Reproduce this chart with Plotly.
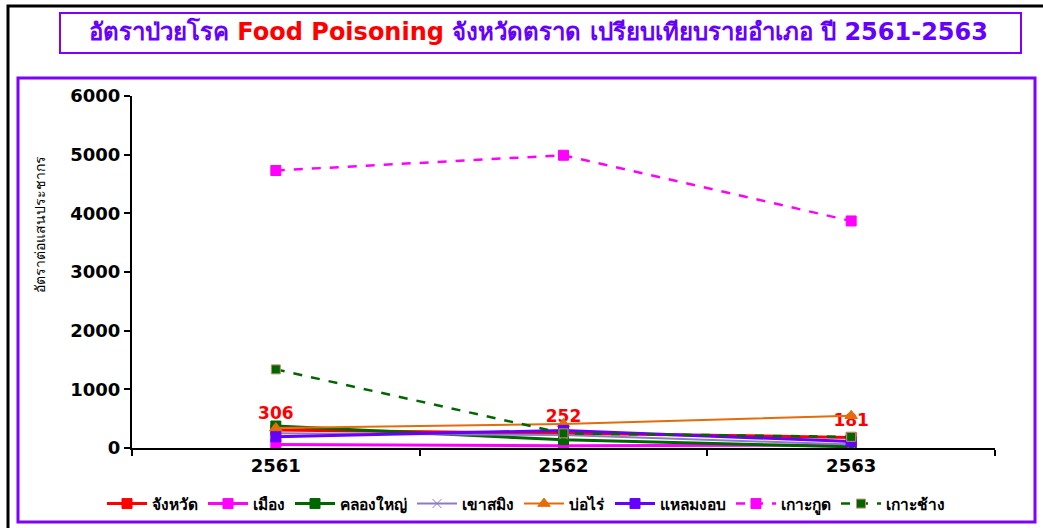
import plotly.graph_objects as go

years = ["2561", "2562", "2563"]
changwat = [306, 252, 181]
mueang = [60, 40, 50]
khlongyai = [375, 140, 20]
khaosaming = [250, 220, 60]
borai = [340, 410, 550]
laemngop = [190, 300, 110]
kokut = [4730, 4990, 3870]
kochang = [1340, 250, 190]

W, H = 1043, 528
L, R, T, B = 132, 995, 96, 448

def px(x):
    return (x - L) / (R - L)

def py(y):
    return (B - y) / (B - T)

fig = go.Figure()

def add(name, y, color, symbol="square", dash="solid", width=3, size=10, lc=None, text=None):
    fig.add_trace(go.Scatter(
        x=years, y=y, name=name,
        mode="lines+markers" + ("+text" if text else ""),
        line=dict(color=color, width=width, dash=dash),
        marker=dict(symbol=symbol, size=size, color=color,
                    line=dict(color=lc or color, width=1)),
        text=text, textposition="top center",
        textfont=dict(family="DejaVu Sans", size=17, color="#FF0000", weight="bold"),
    ))

add("จังหวัด", changwat, "#FF0000", text=[str(v) for v in changwat])
add("เมือง", mueang, "#FF00FF")
add("คลองใหญ่", khlongyai, "#006600")
add("เขาสมิง", khaosaming, "#8E7CC3", symbol="x-thin", width=2, size=9, lc="#8E7CC3")
add("บ่อไร่", borai, "#E46C0A", symbol="triangle-up", width=2, size=11)
add("แหลมงอบ", laemngop, "#6600FF")
add("เกาะกูด", kokut, "#FF00FF", dash="dash", width=2.5)
add("เกาะช้าง", kochang, "#006600", dash="dash", width=2.5, size=9, lc="#C09070")

shapes = [
    # outer black frame
    dict(type="rect", xref="paper", yref="paper", x0=px(8), x1=px(1070), y0=py(560), y1=py(6),
         line=dict(color="black", width=3), layer="below"),
    # chart purple box
    dict(type="rect", xref="paper", yref="paper", x0=px(18), x1=px(1035), y0=py(522), y1=py(78),
         line=dict(color="#7F00FF", width=3), layer="below"),
    # title box
    dict(type="rect", xref="paper", yref="paper", x0=px(60), x1=px(1021), y0=py(53), y1=py(13),
         line=dict(color="#7F00FF", width=2), fillcolor="white", layer="below"),
]

annotations = [
    dict(xref="paper", yref="paper", x=px(538), y=py(32), showarrow=False,
         text="อัตราป่วยโรค <span style='color:#FF0000'>Food Poisoning</span> จังหวัดตราด เปรียบเทียบรายอำเภอ ปี 2561-2563",
         font=dict(family="DejaVu Sans", size=24, color="#6600FF", weight="bold"),
         xanchor="center", yanchor="middle"),
    dict(xref="paper", yref="paper", x=px(40), y=py(225), showarrow=False,
         text="อัตราต่อแสนประชากร", textangle=-90,
         font=dict(family="DejaVu Sans", size=14, color="black"),
         xanchor="center", yanchor="middle"),
]

fig.update_layout(
    width=W, height=H,
    margin=dict(l=L, r=W - R, t=T, b=H - B, autoexpand=False),
    paper_bgcolor="white", plot_bgcolor="white",
    shapes=shapes, annotations=annotations,
    showlegend=True,
    legend=dict(orientation="h", x=px(526), xanchor="center", y=py(504), yanchor="middle",
                font=dict(family="DejaVu Sans", size=15.5, color="black", weight="bold"),
                itemwidth=40, tracegroupgap=0, bgcolor="rgba(0,0,0,0)"),
    xaxis=dict(type="category", range=[-0.5, 2.5], showline=True, linecolor="black", linewidth=2,
               ticks="outside", tickson="boundaries", ticklen=6, tickwidth=2, tickcolor="black",
               showgrid=False, zeroline=False,
               tickfont=dict(family="DejaVu Sans", size=18, color="black", weight="bold")),
    yaxis=dict(range=[0, 6000], dtick=1000, showline=True, linecolor="black", linewidth=2,
               ticks="outside", ticklen=6, tickwidth=2, tickcolor="black",
               showgrid=False, zeroline=False,
               tickfont=dict(family="DejaVu Sans", size=18, color="black", weight="bold")),
)

fig.write_html("out.html", config={"displayModeBar": False},
               post_script="document.body.style.margin='0';document.body.style.overflow='hidden';")
